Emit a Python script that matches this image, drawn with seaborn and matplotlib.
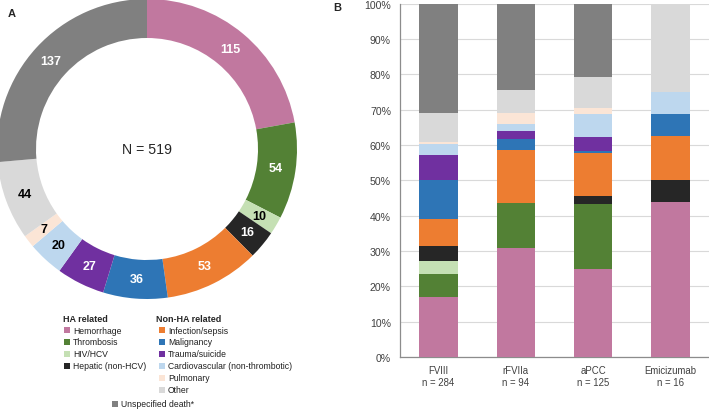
import matplotlib
matplotlib.use("Agg")
import matplotlib.pyplot as plt
from matplotlib.patches import Rectangle
import numpy as np
import pandas as pd
import seaborn as sns

causes = ["Hemorrhage", "Thrombosis", "HIV/HCV", "Hepatic (non-HCV)",
          "Infection/sepsis", "Malignancy", "Trauma/suicide",
          "Cardiovascular (non-thrombotic)", "Pulmonary", "Other",
          "Unspecified death*"]
colors = ["#C1789F", "#538135", "#C5E0B4", "#262626", "#ED7D31", "#2E75B6",
          "#7030A0", "#BDD7EE", "#FBE5D6", "#D9D9D9", "#808080"]
total_deaths = [115, 54, 10, 16, 53, 36, 27, 20, 7, 44, 137]
label_dark = [False, False, True, False, False, False, False, True, True, True, False]

products = ["FVIII", "rFVIIa", "aPCC", "Emicizumab"]
product_n = [284, 94, 125, 16]
fviii = [48, 19, 10, 12, 22, 31, 20, 9, 2, 23, 88]
rfviia = [29, 12, 0, 0, 14, 3, 2, 2, 3, 6, 23]
apcc = [31, 23, 0, 3, 15, 1, 5, 8, 2, 11, 26]
emicizumab = [7, 0, 0, 1, 2, 1, 0, 1, 0, 4, 0]

sns.set_style("white")
plt.rcParams["font.family"] = ["Liberation Sans", "DejaVu Sans"]

W, H = 709, 410
fig = plt.figure(figsize=(W / 100, H / 100), dpi=100)

# ---- A: donut
cx, cy, r = 147, 150, 150
ax1 = fig.add_axes([(cx - r) / W, 1 - (cy + r) / H, 2 * r / W, 2 * r / H])
tot = sum(total_deaths)
wedges, texts, autotexts = ax1.pie(
    total_deaths, colors=colors, startangle=90, counterclock=False,
    radius=1, wedgeprops=dict(width=0.26, linewidth=0),
    autopct=lambda p: f"{p * tot / 100:.0f}", pctdistance=0.87,
    textprops=dict(fontsize=9, fontweight="bold"))
for t, dark in zip(autotexts, label_dark):
    t.set_color("black" if dark else "white")
ax1.text(0, 0, f"N = {tot}", ha="center", va="center", fontsize=10.2)
ax1.set_xlim(-1, 1)
ax1.set_ylim(-1, 1)
ax1.set_aspect("equal")
ax1.axis("off")

# ---- B: stacked bars
df = pd.DataFrame([fviii, rfviia, apcc, emicizumab], columns=causes)
df.insert(0, "product", [f"{p}\nn = {n}" for p, n in zip(products, product_n)])
pct = df[causes].div(df[causes].sum(axis=1), axis=0) * 100
cum = pct.cumsum(axis=1)

ax2 = fig.add_axes([400 / W, 1 - 358 / H, (709 - 400) / W, (358 - 4.7) / H])
for i in range(len(causes) - 1, -1, -1):
    sns.barplot(x=df["product"], y=cum[causes[i]], color=colors[i],
                saturation=1, width=0.5, linewidth=0, ax=ax2, zorder=3)
ax2.set_xlim(-0.5, 3.5)
ax2.set_ylim(0, 100)
ax2.set_yticks(range(0, 101, 10))
ax2.set_yticklabels([f"{v}%" for v in range(0, 101, 10)])
ax2.set_xlabel("")
ax2.set_ylabel("")
ax2.grid(axis="y", color="#D9D9D9", linewidth=0.8, zorder=0)
ax2.set_axisbelow(True)
for s in ["top", "right"]:
    ax2.spines[s].set_visible(False)
for s in ["left", "bottom"]:
    ax2.spines[s].set_color("#8C8C8C")
    ax2.spines[s].set_linewidth(0.9)
ax2.tick_params(axis="x", length=0, labelsize=6.9, labelcolor="#404040", pad=6)
ax2.tick_params(axis="y", length=0, labelsize=7.6, labelcolor="#404040", pad=6.5)

# ---- panel letters
fig.text(8 / W, 1 - 14 / H, "A", fontsize=8, fontweight="bold", va="center")
fig.text(333 / W, 1 - 8 / H, "B", fontsize=8, fontweight="bold", va="center")

# ---- legend
fs = 6.2
sq = 6


def legend_item(x, y, color, label):
    fig.patches.append(Rectangle(((x) / W, 1 - (y + sq / 2) / H), sq / W, sq / H,
                                 transform=fig.transFigure, facecolor=color,
                                 edgecolor="none"))
    fig.text((x + 9) / W, 1 - y / H, label, fontsize=fs, va="center",
             color="#202020")


fig.text(63 / W, 1 - 319 / H, "HA related", fontsize=6.5, fontweight="bold", va="center")
fig.text(156 / W, 1 - 319 / H, "Non-HA related", fontsize=6.5, fontweight="bold", va="center")
for k in range(4):
    legend_item(64, 331 + 12 * k, colors[k], causes[k])
for k in range(4, 10):
    legend_item(159, 331 + 12 * (k - 4), colors[k], causes[k])
legend_item(112, 405, colors[10], causes[10])

fig.savefig("out.png", dpi=100)
